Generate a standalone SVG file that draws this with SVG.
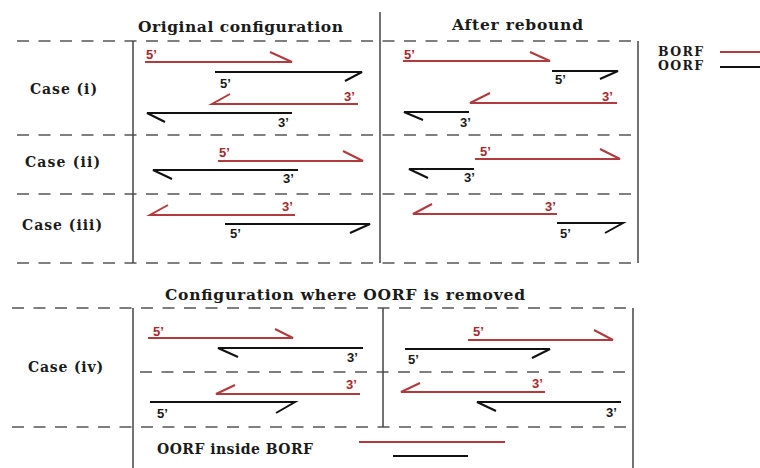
<svg xmlns="http://www.w3.org/2000/svg" width="760" height="468" viewBox="0 0 760 468">
<style>
.bg{fill:#fff}
.dash{stroke:#555;stroke-width:1.5;stroke-dasharray:12 9.5;fill:none}
.vl{stroke:#444;stroke-width:1.5;fill:none}
.r{stroke:#b23a3c;stroke-width:2;fill:none}
.k{stroke:#111;stroke-width:2;fill:none}
.t{font-family:"DejaVu Serif","Liberation Serif",serif;font-weight:bold;fill:#1a1a1a}
.h{font-size:15.5px}
.c{font-size:14px}
.lg{font-size:12.5px}
.p{font-family:"Liberation Sans","DejaVu Sans",sans-serif;font-weight:bold;font-size:13px}
.pr{fill:#a8282c}
.pk{fill:#1a1a1a}
</style>
<rect class="bg" width="760" height="468"/>
<g id="frame">
<path class="dash" d="M17 41H636"/>
<path class="dash" d="M17 135H638"/>
<path class="dash" d="M17 194H638"/>
<path class="dash" d="M17 263H638"/>
<path class="vl" d="M638 41V263"/>
<path class="vl" d="M133 41V263"/>
<path class="vl" d="M380 12V263"/>
<path class="dash" d="M12 308H631"/>
<path class="dash" d="M140 372H633"/>
<path class="dash" d="M12 427H633"/>
<path class="vl" d="M133 308V468"/>
<path class="vl" d="M383 308V427"/>
<path class="vl" d="M633 308V468"/>
</g>
<g id="titles" class="t h">
<text x="138" y="32" textLength="205">Original configuration</text>
<text x="452" y="30" textLength="131">After rebound</text>
<text x="165" y="300" textLength="360">Configuration  where  OORF is removed</text>
</g>
<g id="legend">
<text class="t lg" x="658" y="56" textLength="45">BORF</text>
<text class="t lg" x="658" y="70" textLength="45">OORF</text>
<path class="r" d="M720 52H760"/>
<path class="k" d="M720 67H760"/>
</g>
<g id="case-i">
<text class="t c" x="30" y="94" textLength="67">Case (i)</text>
<path class="r" d="M145 62H292L270 52"/>
<text class="p pr" x="146" y="59">5’</text>
<path class="k" d="M215 72H362L345 81"/>
<text class="p pk" x="220" y="88">5’</text>
<path class="r" d="M358 104H212L230 94"/>
<text class="p pr" x="344" y="101">3’</text>
<path class="k" d="M292 113H147L165 122"/>
<text class="p pk" x="278" y="127">3’</text>
<path class="r" d="M403 61H550L530 52"/>
<text class="p pr" x="404" y="59">5’</text>
<path class="k" d="M552 71H618L600 79"/>
<text class="p pk" x="555" y="84">5’</text>
<path class="r" d="M617 103H470L490 93"/>
<text class="p pr" x="602" y="101">3’</text>
<path class="k" d="M469 112H404L423 120"/>
<text class="p pk" x="460" y="127">3’</text>
</g>
<g id="case-ii">
<text class="t c" x="25" y="167" textLength="75">Case (ii)</text>
<path class="r" d="M218 161H363L343 151"/>
<text class="p pr" x="219" y="157">5’</text>
<path class="k" d="M298 170H153L172 179"/>
<text class="p pk" x="283" y="183">3’</text>
<path class="r" d="M475 159H620L600 149"/>
<text class="p pr" x="480" y="156">5’</text>
<path class="k" d="M474 169H409L428 178"/>
<text class="p pk" x="464" y="182">3’</text>
</g>
<g id="case-iii">
<text class="t c" x="22" y="230" textLength="80">Case (iii)</text>
<path class="r" d="M295 215H150L168 205"/>
<text class="p pr" x="282" y="211">3’</text>
<path class="k" d="M225 224H370L350 233"/>
<text class="p pk" x="230" y="238">5’</text>
<path class="r" d="M557 214H413L432 204"/>
<text class="p pr" x="545" y="211">3’</text>
<path class="k" d="M557 223H623L605 233"/>
<text class="p pk" x="560" y="238">5’</text>
</g>
<g id="case-iv">
<text class="t c" x="28" y="372" textLength="75">Case (iv)</text>
<path class="r" d="M148 338H293L275 329"/>
<text class="p pr" x="153" y="336">5’</text>
<path class="k" d="M363 348H218L238 357"/>
<text class="p pk" x="347" y="362">3’</text>
<path class="r" d="M360 394H216L235 385"/>
<text class="p pr" x="346" y="389">3’</text>
<path class="k" d="M150 402H295L276 413"/>
<text class="p pk" x="157" y="418">5’</text>
<path class="r" d="M468 340H613L594 330"/>
<text class="p pr" x="473" y="336">5’</text>
<path class="k" d="M405 349H550L532 358"/>
<text class="p pk" x="408" y="364">5’</text>
<path class="r" d="M545 392H401L420 383"/>
<text class="p pr" x="532" y="388">3’</text>
<path class="k" d="M621 402H477L496 411"/>
<text class="p pk" x="606" y="417">3’</text>
</g>
<g id="oorf-inside-borf">
<text class="t c" x="157" y="454" textLength="156">OORF inside BORF</text>
<path class="r" d="M359 442H505"/>
<path class="k" d="M393 456H468"/>
</g>
</svg>
